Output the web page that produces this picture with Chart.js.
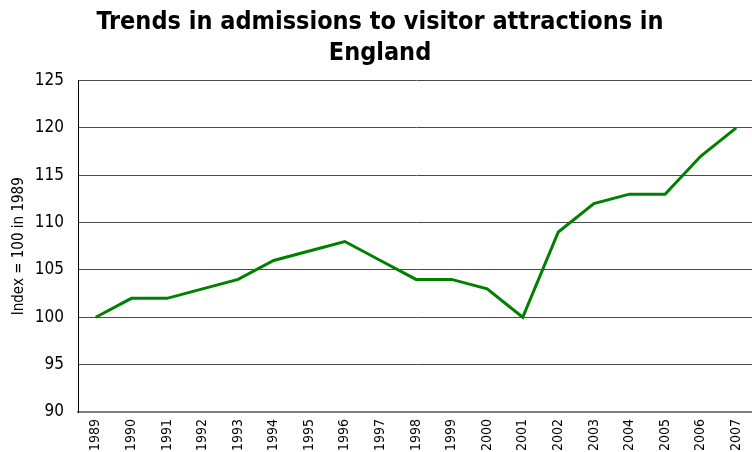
<!DOCTYPE html>
<html lang="en">
<head>
    <meta charset="UTF-8">
    <title>Visitor attractions</title>
    <script src="https://cdn.jsdelivr.net/npm/chart.js"></script>
    <style>
        html, body { margin: 0; padding: 0; background: #fff; overflow: hidden; }
        #wrap { width: 760px; height: 452px; }
    </style>
</head>
<body>
<div id="wrap">
    <canvas id="myChart" width="760" height="452"></canvas>
</div>
<script>
const years = ['1989', '1990', '1991', '1992', '1993', '1994', '1995', '1996', '1997', '1998',
               '1999', '2000', '2001', '2002', '2003', '2004', '2005', '2006', '2007'];
const admissionsIndex = [100, 102, 102, 103, 104, 106, 107, 108, 106, 104,
                         104, 103, 100, 109, 112, 113, 113, 117, 120];
const yMin = 90;
const yMax = 125;
const yStep = 5;

const narrow = "'Liberation Sans Narrow', 'Arial Narrow', 'DejaVu Sans Condensed', sans-serif";

const ctx = document.getElementById('myChart').getContext('2d');
new Chart(ctx, {
    type: 'line',
    data: {
        labels: years,
        datasets: [{
            label: 'Index',
            data: admissionsIndex,
            borderColor: '#008000',
            borderWidth: 3,
            pointRadius: 0,
            tension: 0,
            fill: false
        }]
    },
    options: {
        responsive: false,
        animation: false,
        layout: { padding: { top: 7, right: 0, left: 0, bottom: 0 } },
        plugins: {
            legend: { display: false },
            tooltip: { enabled: false },
            title: {
                display: true,
                text: ['Trends in admissions to visitor attractions in', 'England'],
                color: '#000',
                font: { family: narrow, size: 25, weight: 'bold', lineHeight: 1.25 },
                padding: { top: 0, bottom: 11 }
            }
        },
        scales: {
            x: {
                offset: true,
                grid: { display: false, drawTicks: false },
                border: { color: '#808080', width: 2 },
                ticks: {
                    color: '#000',
                    font: { family: narrow, size: 14 },
                    minRotation: 90,
                    maxRotation: 90,
                    padding: 7
                },
                afterFit: axis => { axis.height = 40; }
            },
            y: {
                min: yMin,
                max: yMax,
                grid: { color: '#4a4a4a', lineWidth: 1, drawTicks: false },
                border: { color: '#000', width: 1 },
                ticks: {
                    stepSize: yStep,
                    color: '#000',
                    font: { family: narrow, size: 17 },
                    padding: 14
                },
                title: {
                    display: true,
                    text: 'Index = 100 in 1989',
                    color: '#000',
                    font: { family: narrow, size: 15 },
                    padding: { top: 10, bottom: 4 }
                },
                afterFit: axis => { axis.width = 78; }
            }
        }
    }
});
</script>
</body>
</html>
